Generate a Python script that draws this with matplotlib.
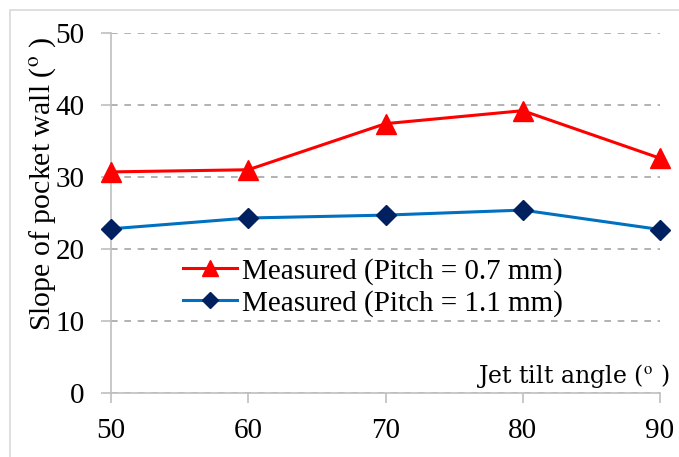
import matplotlib.pyplot as plt
from matplotlib.patches import Rectangle

# data
tilt = [50, 60, 70, 80, 90]
slope_p07 = [30.7, 31.0, 37.4, 39.2, 32.6]
slope_p11 = [22.8, 24.3, 24.7, 25.4, 22.7]
yticks = [0, 10, 20, 30, 40, 50]

plt.rcParams['font.family'] = ['Liberation Serif', 'DejaVu Serif']
plt.rcParams['mathtext.fontset'] = 'stix'

fig = plt.figure(figsize=(6.79, 4.57), dpi=100)
fig.patches.append(Rectangle((0.015, -0.05), 1.0, 1.028, transform=fig.transFigure,
                             fill=False, edgecolor='#d9d9d9', linewidth=1.2))
ax = fig.add_axes([0.1635, 0.140, 0.8085, 0.788])

ax.plot(tilt, slope_p07, color='#ff0000', linewidth=2.2, marker='^', markersize=14,
        markerfacecolor='#ff0000', markeredgecolor='#ff0000', clip_on=False, zorder=4,
        label='Measured (Pitch = 0.7 mm)')
ax.plot(tilt, slope_p11, color='#0070c0', linewidth=2.2, marker='D', markersize=10.5,
        markerfacecolor='#002060', markeredgecolor='#002060', clip_on=False, zorder=4,
        label='Measured (Pitch = 1.1 mm)')

ax.set_xlim(50, 90)
ax.set_ylim(0, 50)
ax.set_xticks(tilt)
ax.set_yticks(yticks)
ax.tick_params(labelsize=21, colors='#bfbfbf', labelcolor='black', length=7, width=1.2)
ax.tick_params(axis='x', pad=11)
ax.tick_params(axis='y', pad=12)

for s in ['top', 'right']:
    ax.spines[s].set_visible(False)
for s in ['left', 'bottom']:
    ax.spines[s].set_color('#bfbfbf')
    ax.spines[s].set_linewidth(1.2)

ax.yaxis.grid(True, linestyle=(0, (4, 4)), color='#a6a6a6', linewidth=1.2)
ax.set_axisbelow(True)

ax.set_ylabel('Slope of pocket wall ($^{\\rm o}$ )', fontsize=21.5)
ax.yaxis.set_label_coords(-0.096, 0.58)
ax.text(1.018, 0.028, 'Jet tilt angle ($^{\\rm o}$ )', transform=ax.transAxes,
        ha='right', va='baseline', fontsize=17, family=['DejaVu Serif'])

ax.legend(loc='upper left', bbox_to_anchor=(0.131, 0.375), fontsize=21, frameon=False,
          handlelength=1.85, handletextpad=0.17, borderaxespad=0, borderpad=0,
          labelspacing=0.17, markerscale=0.8)

fig.savefig('out.png', dpi=100)
